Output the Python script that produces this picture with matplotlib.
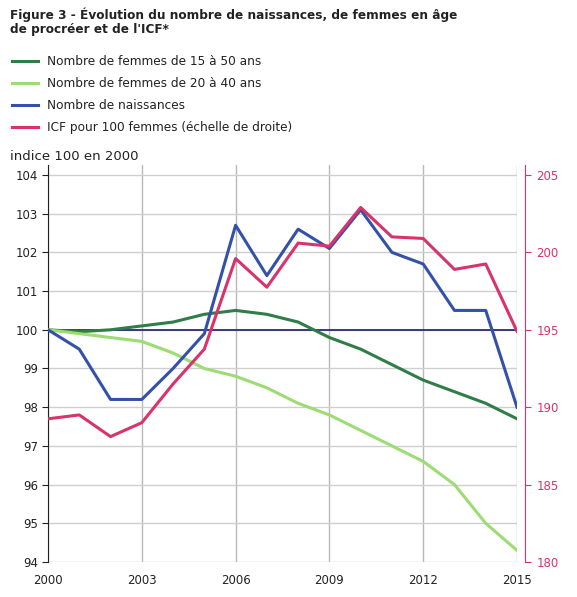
import matplotlib
matplotlib.use("Agg")
import matplotlib.pyplot as plt

years = list(range(2000, 2016))
femmes_15_50 = [100, 99.95, 100, 100.1, 100.2, 100.4, 100.5, 100.4, 100.2, 99.8, 99.5, 99.1, 98.7, 98.4, 98.1, 97.7]
femmes_20_40 = [100, 99.9, 99.8, 99.7, 99.4, 99.0, 98.8, 98.5, 98.1, 97.8, 97.4, 97.0, 96.6, 96.0, 95.0, 94.3]
naissances = [100, 99.5, 98.2, 98.2, 99.0, 99.9, 102.7, 101.4, 102.6, 102.1, 103.1, 102.0, 101.7, 100.5, 100.5, 98.0]
icf = [189.25, 189.5, 188.1, 189.0, 191.5, 193.75, 199.6, 197.75, 200.6, 200.4, 202.9, 201.0, 200.9, 198.9, 199.25, 194.9]

left_ticks = [94, 95, 96, 97, 98, 99, 100, 101, 102, 103, 104]
right_ticks = [180, 185, 190, 195, 200, 205]
x_ticks = [2000, 2003, 2006, 2009, 2012, 2015]

labels = ["Nombre de femmes de 15 à 50 ans", "Nombre de femmes de 20 à 40 ans",
          "Nombre de naissances", "ICF pour 100 femmes (échelle de droite)"]

c_dg = "#2f7d47"
c_lg = "#9ddc74"
c_bl = "#3451a9"
c_pk = "#d8336a"

fig = plt.figure(figsize=(5.77, 5.97), dpi=100)
ax = fig.add_axes([48/577, 1-562/597, (517-48)/577, (562-165)/597])

ax.set_xlim(2000, 2015)
ax.set_ylim(94, 104 + 10/38.8)
ax.set_yticks(left_ticks)
ax.set_xticks(x_ticks)
ax.grid(True, axis="y", color="#cfcfcf", lw=1)
ax.grid(True, axis="x", color="#b8b8b8", lw=1)
ax.set_axisbelow(True)
ax.axhline(100, color="#1c1c6e", lw=1.2, zorder=2)

l1, = ax.plot(years, femmes_15_50, color=c_dg, lw=2.2, label=labels[0], zorder=3)
l2, = ax.plot(years, femmes_20_40, color=c_lg, lw=2.2, label=labels[1], zorder=3)
l3, = ax.plot(years, naissances, color=c_bl, lw=2.2, label=labels[2], zorder=4)

ax2 = ax.twinx()
ax2.set_ylim(180, 205 + 25/388*10)
ax2.set_yticks(right_ticks)
l4, = ax2.plot(years, icf, color=c_pk, lw=2.2, label=labels[3], zorder=5)

for s in ["top", "right"]:
    ax.spines[s].set_visible(False)
ax.spines["bottom"].set_visible(False)
ax.spines["left"].set_color("#222222")
ax.tick_params(axis="y", length=4, color="#222222", labelsize=8.5, labelcolor="#222222", pad=3)
ax.tick_params(axis="x", length=0, labelsize=8.5, labelcolor="#222222", pad=9)

for s in ["top", "left", "bottom"]:
    ax2.spines[s].set_visible(False)
ax2.spines["right"].set_color(c_pk)
ax2.spines["right"].set_position(("outward", 6))
ax2.tick_params(axis="y", length=4, color=c_pk, labelsize=8.5, labelcolor=c_pk, pad=4)

fig.text(10/577, 1-8/597, "Figure 3 - Évolution du nombre de naissances, de femmes en âge\nde procréer et de l'ICF*",
         ha="left", va="top", fontsize=8.7, fontweight="bold", color="#222222", linespacing=1.0)

fig.legend(handles=[l1, l2, l3, l4], labels=labels, loc="upper left",
           bbox_to_anchor=(7/577, 1-50/597), frameon=False, fontsize=8.7,
           handlelength=2.15, handletextpad=0.75, labelspacing=0.76, borderaxespad=0,
           labelcolor="#222222")

fig.text(10/577, 1-156/597, "indice 100 en 2000", ha="left", va="center", fontsize=9.5, color="#222222")

fig.savefig("out.png", dpi=100)
